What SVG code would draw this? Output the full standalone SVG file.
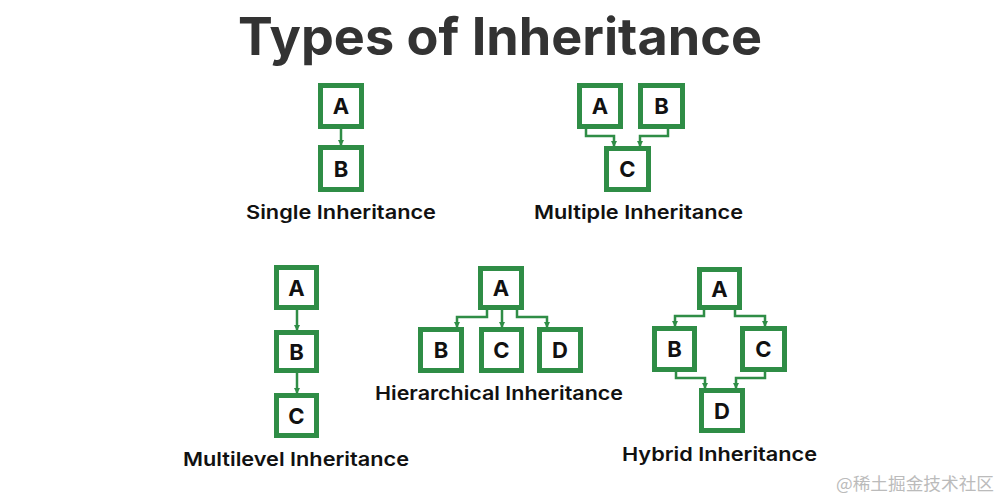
<svg xmlns="http://www.w3.org/2000/svg" width="1000" height="500" viewBox="0 0 1000 500">
<defs>
<style>
.box{fill:#fff;stroke:#2f8d46;stroke-width:5}
.lt{font-family:Inter,"Noto Sans",sans-serif;font-weight:700;font-size:22px;fill:#111;text-anchor:middle}
.lab{font-family:Inter,"Noto Sans",sans-serif;font-weight:600;font-size:19px;fill:#111}
.con{fill:none;stroke:#2f8d46;stroke-width:2.5;marker-end:url(#ah)}
</style>
<marker id="ah" viewBox="0 0 6 6" refX="5" refY="3" markerWidth="2.4" markerHeight="2.4" orient="auto" markerUnits="strokeWidth">
<path d="M0,0 L6,3 L0,6 z" fill="#2f8d46"/>
</marker>
</defs>
<rect width="1000" height="500" fill="#fff"/>
<text x="500" y="55" text-anchor="middle" font-family="Inter,'Noto Sans',sans-serif" font-weight="700" font-size="52" fill="#333" textLength="524" lengthAdjust="spacingAndGlyphs">Types of Inheritance</text>

<g id="connectors">
<path class="con" d="M341,129 V145"/>
<path class="con" d="M586,129 V136 H614 V146"/>
<path class="con" d="M668,129 V136 H640 V146"/>
<path class="con" d="M297,310 V330"/>
<path class="con" d="M297,373 V393"/>
<path class="con" d="M487,310 V317 H457 V327"/>
<path class="con" d="M502,310 V327"/>
<path class="con" d="M517,310 V317 H547 V327"/>
<path class="con" d="M704,310 V316 H675 V326"/>
<path class="con" d="M735,310 V316 H765 V326"/>
<path class="con" d="M676,372 V378 H705 V388"/>
<path class="con" d="M765,372 V378 H736 V388"/>
</g>

<g id="single">
<g id="single-A"><rect class="box" x="320.5" y="85.5" width="41" height="41"/><text class="lt" x="341" y="114">A</text></g>
<g id="single-B"><rect class="box" x="320.5" y="147.5" width="41" height="42"/><text class="lt" x="341" y="176.5">B</text></g>
<text class="lab" x="246" y="219" textLength="190" lengthAdjust="spacingAndGlyphs">Single Inheritance</text>
</g>

<g id="multiple">
<g id="multiple-A"><rect class="box" x="579.5" y="85.5" width="41" height="41"/><text class="lt" x="600" y="114">A</text></g>
<g id="multiple-B"><rect class="box" x="640.5" y="85.5" width="42" height="41"/><text class="lt" x="661.5" y="114">B</text></g>
<g id="multiple-C"><rect class="box" x="606.5" y="148.5" width="42" height="41"/><text class="lt" x="627.5" y="177">C</text></g>
<text class="lab" x="534" y="219" textLength="209" lengthAdjust="spacingAndGlyphs">Multiple Inheritance</text>
</g>

<g id="multilevel">
<g id="multilevel-A"><rect class="box" x="276.5" y="267.5" width="40" height="40"/><text class="lt" x="296.5" y="295.5">A</text></g>
<g id="multilevel-B"><rect class="box" x="276.5" y="332.5" width="40" height="38"/><text class="lt" x="296.5" y="359.5">B</text></g>
<g id="multilevel-C"><rect class="box" x="276.5" y="395.5" width="40" height="40"/><text class="lt" x="296.5" y="423.5">C</text></g>
<text class="lab" x="183" y="466" textLength="226" lengthAdjust="spacingAndGlyphs">Multilevel Inheritance</text>
</g>

<g id="hierarchical">
<g id="hier-A"><rect class="box" x="480.5" y="268.5" width="41" height="39"/><text class="lt" x="501" y="296">A</text></g>
<g id="hier-B"><rect class="box" x="420.5" y="329.5" width="41" height="41"/><text class="lt" x="441" y="358">B</text></g>
<g id="hier-C"><rect class="box" x="481.5" y="329.5" width="40" height="41"/><text class="lt" x="501.5" y="358">C</text></g>
<g id="hier-D"><rect class="box" x="539.5" y="329.5" width="41" height="41"/><text class="lt" x="560" y="358">D</text></g>
<text class="lab" x="375" y="400" textLength="248" lengthAdjust="spacingAndGlyphs">Hierarchical Inheritance</text>
</g>

<g id="hybrid">
<g id="hybrid-A"><rect class="box" x="699.5" y="269.5" width="40" height="38"/><text class="lt" x="719.5" y="296.5">A</text></g>
<g id="hybrid-B"><rect class="box" x="654.5" y="328.5" width="40" height="41"/><text class="lt" x="674.5" y="357">B</text></g>
<g id="hybrid-C"><rect class="box" x="742.5" y="328.5" width="42" height="41"/><text class="lt" x="763.5" y="357">C</text></g>
<g id="hybrid-D"><rect class="box" x="701.5" y="390.5" width="41" height="40"/><text class="lt" x="722" y="418.5">D</text></g>
<text class="lab" x="622" y="461" textLength="195" lengthAdjust="spacingAndGlyphs">Hybrid Inheritance</text>
</g>

<text x="836" y="490" font-family="'Noto Sans CJK SC',sans-serif" font-size="17" fill="#bbb" textLength="158" lengthAdjust="spacingAndGlyphs">@稀土掘金技术社区</text>
</svg>
